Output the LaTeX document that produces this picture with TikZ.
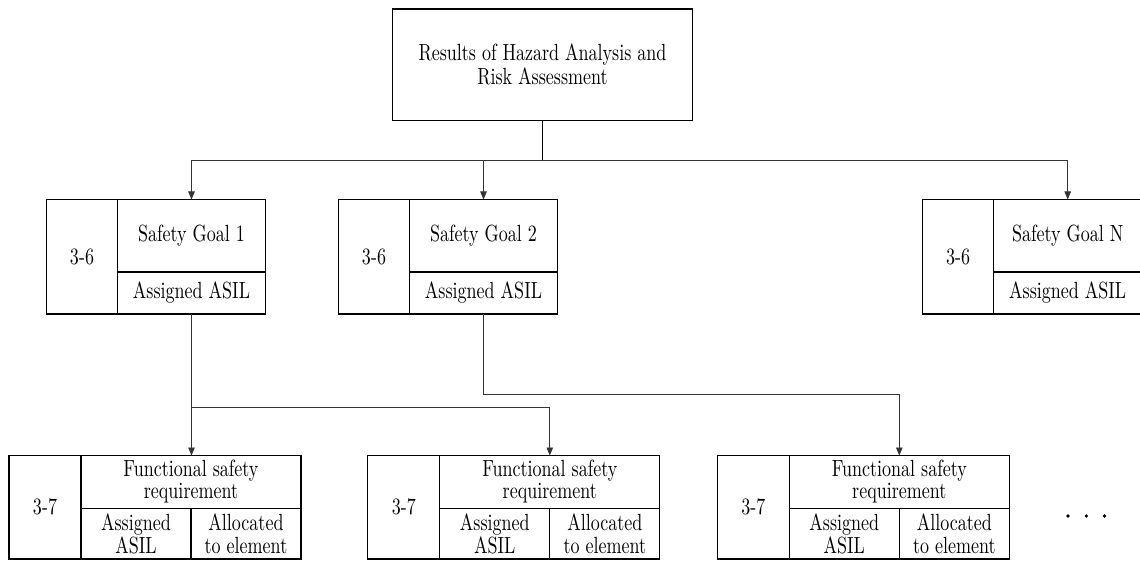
\documentclass[tikz,border=0pt]{standalone}
\usepackage{fontspec}
\setmainfont{lmroman10-regular.otf}[FakeStretch=0.77]
\usetikzlibrary{arrows.meta}

\begin{document}
\begin{tikzpicture}[x=1pt,y=-1pt,
  cell/.style={draw, line width=1.1pt, inner sep=0pt, outer sep=0pt,
    anchor=north west, align=center,
    font=\fontsize{23.4}{22}\selectfont},
  topbox/.style={cell, minimum width=300pt, minimum height=111.7pt,
    font=\fontsize{23.4}{24}\selectfont},
  sgid/.style={cell, minimum width=71pt, minimum height=114.5pt},
  sgtitle/.style={cell, minimum width=148pt, minimum height=72.5pt},
  sgasil/.style={cell, minimum width=148pt, minimum height=42pt},
  frid/.style={cell, minimum width=72pt, minimum height=103.5pt},
  frtitle/.style={cell, minimum width=220pt, minimum height=53pt},
  frhalf/.style={cell, minimum width=110pt, minimum height=50.5pt,
    font=\fontsize{23.4}{22.5}\selectfont},
  conn/.style={line width=0.8pt, draw=black!80},
  arr/.style={conn, -{Triangle[length=8pt,width=6.5pt]}},
  dot/.style={circle, fill=black, inner sep=0pt, minimum size=3.6pt}
]
\useasboundingbox (0,0) rectangle (1140,561);

% hazard analysis results
\node[topbox] (top) at (392.5,9) {Results of Hazard Analysis and\\Risk Assessment};

% safety goals
\node[sgid]    (sg1i) at (46.5,199.5)  {3-6};
\node[sgtitle] (sg1t) at (117.5,199.5) {Safety Goal 1};
\node[sgasil]  (sg1a) at (117.5,272)   {Assigned ASIL};

\node[sgid]    (sg2i) at (338.5,199.5) {3-6};
\node[sgtitle] (sg2t) at (409.5,199.5) {Safety Goal 2};
\node[sgasil]  (sg2a) at (409.5,272)   {Assigned ASIL};

\node[sgid]    (sgNi) at (922.7,199.5) {3-6};
\node[sgtitle] (sgNt) at (993.7,199.5) {Safety Goal N};
\node[sgasil]  (sgNa) at (993.7,272)   {Assigned ASIL};

% functional safety requirements
\node[frid]    (fr1i) at (9,455.5)   {3-7};
\node[frtitle] (fr1t) at (81,455.5)  {Functional safety\\requirement};
\node[frhalf]  (fr1a) at (81,508.5)  {Assigned\\ASIL};
\node[frhalf]  (fr1e) at (191,508.5) {Allocated\\to element};

\node[frid]    (fr2i) at (367.8,455.5) {3-7};
\node[frtitle] (fr2t) at (439.8,455.5) {Functional safety\\requirement};
\node[frhalf]  (fr2a) at (439.8,508.5) {Assigned\\ASIL};
\node[frhalf]  (fr2e) at (549.8,508.5) {Allocated\\to element};

\node[frid]    (fr3i) at (717.3,455.5) {3-7};
\node[frtitle] (fr3t) at (789.3,455.5) {Functional safety\\requirement};
\node[frhalf]  (fr3a) at (789.3,508.5) {Assigned\\ASIL};
\node[frhalf]  (fr3e) at (899.3,508.5) {Allocated\\to element};

% continuation dots
\node[dot] (d1) at (1068,516) {};
\node[dot] (d2) at (1086.3,516) {};
\node[dot] (d3) at (1104.5,516) {};

% connectors
\coordinate (bus) at (542.5,160);
\draw[conn, line width=1.3pt, draw=black] (top.south) -- (bus);
\draw[arr] (bus) -| (sg1t.north);
\draw[arr] (bus) -| (sg2t.north);
\draw[arr] (bus) -| (sgNt.north);

\draw[arr] (sg1a.south) -- (sg1a.south |- fr1t.north);
\draw[arr] (sg1a.south) -- ++(0,93.7) -| (fr2t.north);
\draw[arr] (sg2a.south) -- ++(0,80.5) -| (fr3t.north);
\end{tikzpicture}
\end{document}
